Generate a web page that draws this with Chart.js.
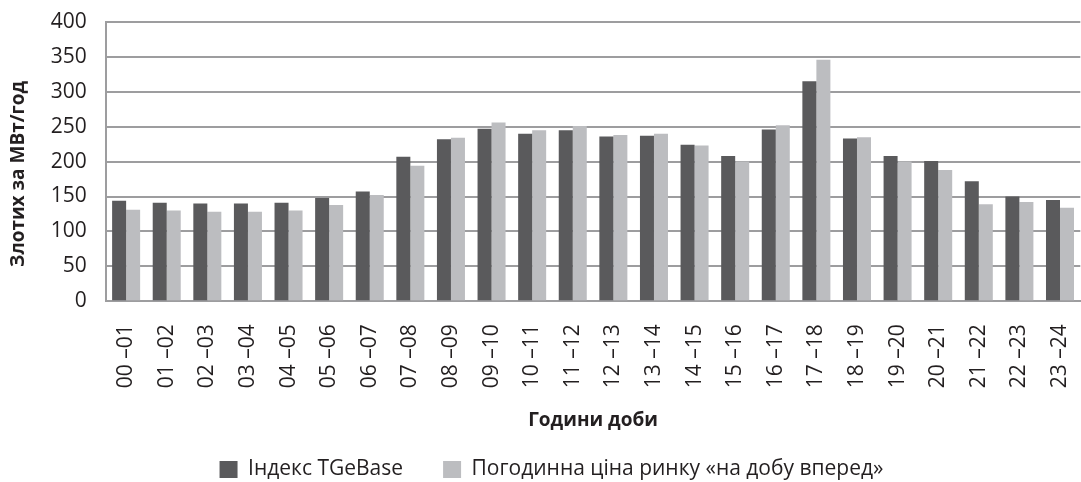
<!DOCTYPE html>
<html>
<head>
<meta charset="utf-8">
<script src="https://cdn.jsdelivr.net/npm/chart.js@4"></script>
<style>
  html, body { margin: 0; padding: 0; background: #fff; }
  #wrap { width: 1081px; height: 482px; position: relative; }
</style>
</head>
<body>
<div id="wrap"><canvas id="hoursChart"></canvas></div>
<script>
const hours = ['00 –01', '01 –02', '02 –03', '03 –04', '04 –05', '05 –06', '06 –07', '07 –08',
    '08 –09', '09 –10', '10 –11', '11 –12', '12 –13', '13 –14', '14 –15', '15 –16',
    '16 –17', '17 –18', '18 –19', '19 –20', '20 –21', '21 –22', '22 –23', '23 –24'];

// Індекс TGeBase
const tgeBase = [144, 141, 140, 140, 141, 148, 157, 207, 232, 247, 240, 245,
    236, 237, 224, 208, 246, 315, 233, 208, 201, 172, 150, 145];

// Погодинна ціна ринку «на добу вперед»
const dayAhead = [131, 130, 128, 128, 130, 138, 152, 194, 234, 256, 245, 251,
    238, 240, 223, 200, 252, 346, 235, 200, 188, 139, 142, 134];

const seriesNames = ['Індекс TGeBase', 'Погодинна ціна ринку «на добу вперед»'];
const yMax = 400;
const yStep = 50;

const font = "'Open Sans', 'Noto Sans', sans-serif";
const textColor = '#231f20';
const gridColor = '#9d9d9f';

function renderHoursChart() {
    const ctx = document.getElementById('hoursChart').getContext('2d');
    new Chart(ctx, {
        type: 'bar',
        data: {
            labels: hours,
            datasets: [{
                label: seriesNames[0],
                data: tgeBase,
                backgroundColor: '#5a5a5c',
                borderWidth: 0
            }, {
                label: seriesNames[1],
                data: dayAhead,
                backgroundColor: '#bcbdc0',
                borderWidth: 0
            }]
        },
        options: {
            responsive: true,
            maintainAspectRatio: false,
            animation: false,
            layout: {
                padding: { left: 22, right: 0, top: 22, bottom: -8 }
            },
            datasets: {
                bar: {
                    categoryPercentage: 0.69,
                    barPercentage: 1.0
                }
            },
            scales: {
                x: {
                    grid: {
                        display: true,
                        color: 'rgba(0,0,0,0)',
                        drawTicks: true,
                        tickLength: 23,
                        tickColor: 'rgba(0,0,0,0)'
                    },
                    border: {
                        display: true,
                        color: gridColor,
                        width: 2
                    },
                    ticks: {
                        color: textColor,
                        font: { family: font, size: 21, lineHeight: 1.0 },
                        minRotation: 90,
                        maxRotation: 90,
                        padding: 0,
                        autoSkip: false
                    },
                    title: {
                        display: true,
                        text: 'Години доби',
                        color: textColor,
                        font: { family: font, size: 19, weight: 'bold' },
                        padding: { top: 21, bottom: -13 }
                    }
                },
                y: {
                    min: 0,
                    max: yMax,
                    grid: {
                        color: gridColor,
                        lineWidth: 2,
                        drawTicks: true,
                        tickLength: 19,
                        tickColor: 'rgba(0,0,0,0)'
                    },
                    border: {
                        display: true,
                        color: gridColor,
                        width: 2
                    },
                    ticks: {
                        stepSize: yStep,
                        color: textColor,
                        font: { family: font, size: 21 },
                        padding: 0
                    },
                    title: {
                        display: true,
                        text: 'Злотих за МВт/год     ',
                        color: textColor,
                        font: { family: font, size: 19, weight: 'bold' },
                        padding: { top: -15, bottom: 21 }
                    }
                }
            },
            plugins: {
                legend: {
                    display: true,
                    position: 'bottom',
                    labels: {
                        color: textColor,
                        font: { family: font, size: 21 },
                        boxWidth: 18,
                        boxHeight: 17,
                        padding: 40
                    }
                },
                tooltip: {
                    enabled: false
                }
            }
        }
    });
}

document.addEventListener('DOMContentLoaded', function () {
    renderHoursChart();
});
</script>
</body>
</html>
